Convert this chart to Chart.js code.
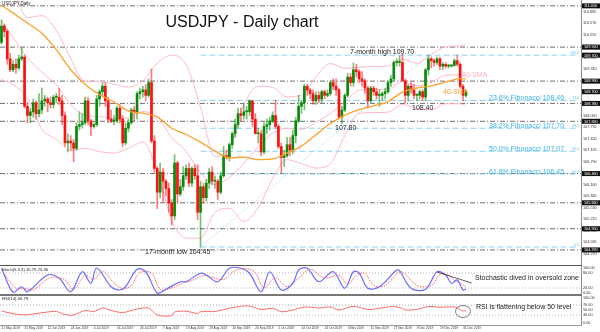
<!DOCTYPE html>
<html><head><meta charset="utf-8">
<script src="https://cdn.jsdelivr.net/npm/chart.js@4.4.1/dist/chart.umd.min.js"></script>
<style>
html,body{margin:0;padding:0;background:#fff;}
#wrap{position:relative;width:600px;height:332px;overflow:hidden;background:#fff;}
canvas{position:absolute;left:0;}
#c1{top:0;} #c2{top:266px;} #c3{top:295px;}
.sep{position:absolute;left:0;width:582px;}
</style></head><body>
<div id="wrap">
<canvas id="c1" width="600" height="266"></canvas>
<canvas id="c2" width="600" height="29"></canvas>
<canvas id="c3" width="600" height="37"></canvas>
<div class="sep" style="top:265px;height:1px;background:#555;"></div>
<div class="sep" style="top:294px;height:2px;background:#777;"></div>
<div class="sep" style="top:325px;height:1px;background:#999;"></div>
</div>
<script>
// ---------------- DATA ----------------
const TITLE = "USDJPY - Daily chart";
const dateTickIdx = [0,8,16,24,32,40,48,56,64,72,80,88,96,104,112,120,128,136,144,152,160];
const dateLabels = ["21 May 2019","31 May 2019","12 Jun 2019","24 Jun 2019","4 Jul 2019","16 Jul 2019","26 Jul 2019","7 Aug 2019","19 Aug 2019","29 Aug 2019","10 Sep 2019","20 Sep 2019","2 Oct 2019","14 Oct 2019","24 Oct 2019","5 Nov 2019","15 Nov 2019","27 Nov 2019","9 Dec 2019","19 Dec 2019","31 Dec 2019"];

const opens = [
110.05,110.50,110.35,109.60,109.30,109.45,109.35,109.60,109.65,108.30,
108.05,108.15,108.40,108.10,108.20,108.45,108.50,108.40,108.35,108.55,
108.55,108.45,108.05,107.30,107.35,107.30,107.15,107.75,107.80,107.85,
108.45,107.90,107.75,107.80,108.50,108.70,108.85,108.45,107.95,107.90,
107.90,108.25,107.95,107.30,107.70,107.85,108.20,108.15,108.65,108.70,
108.75,108.60,108.95,107.35,106.60,105.95,106.50,106.25,106.05,105.65,
105.30,106.75,105.90,106.10,106.40,106.60,106.20,106.60,106.40,105.40,
106.10,105.80,106.20,106.50,106.25,106.25,105.95,106.40,106.95,106.90,
107.25,107.55,107.80,108.10,108.05,108.15,108.15,108.45,107.95,107.55,
107.55,107.05,107.75,107.80,107.90,108.05,107.75,107.20,106.90,106.95,
107.25,107.10,107.50,107.90,108.30,108.40,108.85,108.75,108.65,108.45,
108.60,108.50,108.70,108.60,108.65,108.95,108.85,108.75,108.00,108.20,
108.60,109.10,108.95,109.30,109.25,109.05,109.00,108.80,108.45,108.80,
108.70,108.60,108.60,108.65,108.70,108.95,109.05,109.50,109.50,109.50,
109.00,108.60,108.85,108.75,108.60,108.60,108.70,108.55,109.30,109.60,
109.55,109.50,109.60,109.40,109.45,109.40,109.40,109.42,109.55,109.45,
108.85,108.60];
const highs = [
110.67,110.55,110.40,109.75,109.55,109.60,109.70,109.90,109.70,108.40,
108.25,108.50,108.45,108.65,108.80,108.60,108.55,108.55,108.60,108.65,
108.80,108.60,108.15,107.55,107.50,107.40,107.85,108.15,108.10,108.55,
108.55,107.95,107.85,108.60,108.75,108.95,108.95,108.55,108.20,108.05,
108.30,108.35,108.05,107.85,107.95,108.25,108.30,108.70,108.80,108.85,
108.90,109.05,109.32,107.50,106.65,106.75,106.60,106.30,106.20,105.75,
106.98,106.80,106.30,106.65,106.70,106.75,106.65,106.70,106.70,106.25,
106.20,106.30,106.60,106.65,106.40,106.30,106.50,107.20,107.10,107.30,
107.60,107.95,108.25,108.25,108.35,108.30,108.48,108.47,108.10,107.70,
107.65,107.85,107.95,108.00,108.15,108.47,107.80,107.30,107.10,107.45,
107.45,107.65,108.00,108.60,108.45,108.90,108.90,108.80,108.75,108.70,
108.70,108.75,108.75,108.75,109.00,109.05,109.05,108.80,108.30,108.65,
109.20,109.20,109.49,109.45,109.30,109.25,109.05,108.85,108.85,108.85,
108.80,108.75,108.70,108.80,109.00,109.15,109.55,109.60,109.68,109.73,
109.05,108.90,108.95,108.90,108.65,108.75,108.75,109.35,109.70,109.65,
109.60,109.65,109.65,109.50,109.50,109.45,109.45,109.60,109.70,109.50,
108.90,108.75];
const lows = [
110.00,110.20,109.45,109.25,109.25,109.20,109.30,109.55,108.25,107.85,
107.85,108.00,107.95,108.00,108.10,108.30,108.15,108.25,108.25,108.40,
108.35,107.80,107.20,107.05,107.10,106.78,107.10,107.65,107.70,107.80,
107.80,107.50,107.70,107.75,108.30,108.60,108.30,107.85,107.85,107.80,
107.85,107.85,107.20,107.25,107.60,107.80,107.90,107.95,108.50,108.55,
108.45,108.55,107.30,106.50,105.50,105.80,105.70,105.85,105.40,105.05,
105.20,105.65,105.85,106.00,106.30,106.10,106.10,106.30,105.20,104.45,
105.65,105.70,106.05,106.15,106.05,105.75,105.90,106.35,106.85,106.80,
107.15,107.45,107.70,107.90,107.95,107.95,108.05,107.75,107.55,107.30,
106.95,107.00,107.55,107.65,107.85,107.70,107.15,106.48,106.65,106.90,
106.95,107.00,107.30,107.85,108.10,108.20,108.60,108.50,108.35,108.35,
108.40,108.40,108.50,108.55,108.60,108.75,108.60,107.95,107.82,108.15,
108.55,108.85,108.85,109.10,108.95,108.85,108.65,108.25,108.40,108.60,
108.50,108.30,108.45,108.50,108.65,108.85,109.00,109.40,109.40,109.00,
108.40,108.45,108.65,108.50,108.45,108.50,108.45,108.45,109.15,109.35,
109.40,109.45,109.30,109.30,109.35,109.35,109.38,109.40,109.40,108.80,
108.45,108.55];
const closes = [
110.50,110.35,109.60,109.30,109.45,109.35,109.60,109.65,108.30,108.05,
108.15,108.40,108.10,108.20,108.45,108.50,108.40,108.35,108.55,108.55,
108.45,108.05,107.30,107.35,107.30,107.15,107.75,107.80,107.85,108.45,
107.90,107.75,107.80,108.50,108.70,108.85,108.45,107.95,107.90,107.90,
108.25,107.95,107.30,107.70,107.85,108.20,108.15,108.65,108.70,108.75,
108.60,108.95,107.35,106.60,105.95,106.50,106.25,106.05,105.65,105.30,
106.75,105.90,106.10,106.40,106.60,106.20,106.60,106.40,105.40,106.10,
105.80,106.20,106.50,106.25,106.25,105.95,106.40,106.95,106.90,107.25,
107.55,107.80,108.10,108.05,108.15,108.15,108.45,107.95,107.55,107.55,
107.05,107.75,107.80,107.90,108.05,107.75,107.20,106.90,106.95,107.25,
107.10,107.50,107.90,108.30,108.40,108.85,108.75,108.65,108.45,108.60,
108.50,108.70,108.60,108.65,108.95,108.85,108.75,108.00,108.20,108.60,
109.10,108.95,109.30,109.25,109.05,109.00,108.80,108.45,108.80,108.70,
108.60,108.60,108.65,108.70,108.95,109.05,109.50,109.50,109.50,109.00,
108.60,108.85,108.75,108.60,108.60,108.70,108.55,109.30,109.60,109.55,
109.50,109.60,109.40,109.45,109.40,109.40,109.42,109.55,109.45,108.85,
108.60,108.70];

// moving averages / Bollinger, read at sampled bars
const maIdx   = [0,4,9,14,19,24,29,34,39,44,49,54,59,64,69,74,79,84,89,94,99,104,109,114,119,124,129,134,139,144,149,154,159,161];
const bbMid   = [110.64,110.19,109.63,109.23,108.89,108.35,108.06,108.02,107.96,107.99,108.16,108.00,107.44,107.07,106.48,106.16,106.35,106.74,107.19,107.57,107.70,107.67,107.86,108.10,108.42,108.74,108.76,108.77,108.97,108.86,108.96,109.15,109.16,109.15];
const bbUpper = [112.24,111.49,110.73,110.78,110.38,109.61,108.97,108.98,108.90,108.83,109.00,109.48,109.70,109.44,108.27,106.92,107.19,108.34,108.85,108.82,108.56,108.61,109.11,109.47,109.34,109.37,109.39,109.40,109.59,109.48,109.72,109.93,109.95,109.99];
const bbLower = [109.04,108.89,108.53,107.68,107.40,107.09,107.15,107.06,107.02,107.15,107.32,106.52,105.18,104.70,104.69,105.40,105.51,105.14,105.53,106.32,106.84,106.73,106.61,106.73,107.50,108.11,108.13,108.14,108.35,108.24,108.20,108.37,108.37,108.31];
const sma40   = [111.07,110.85,110.58,110.30,109.85,109.30,108.90,108.62,108.42,108.17,108.11,108.01,107.70,107.53,107.32,107.08,106.89,106.91,106.84,106.86,107.02,107.21,107.52,107.83,108.06,108.21,108.31,108.43,108.69,108.80,108.86,108.96,109.06,109.05];

// horizontal levels
const priceTicks = [104.270,104.585,104.900,105.215,105.530,105.845,106.160,106.475,106.790,107.105,107.420,107.735,108.050,108.365,108.680,108.995,109.310,109.625,109.940,110.255,110.570,110.885];
const grayLevels = [111.05,109.92,108.99,108.38,107.89,106.46,105.66,104.95,104.37];
const boxLevels = [111.05,109.92,109.70,108.99,108.70,108.38,107.89,106.46,105.66,104.95,104.37];
const fibLevels = [109.70,108.46,107.70,107.07,106.45,104.45];
const fibPct = ["100.0","23.6","38.2","50.0","61.8","0.0"];
const fibTexts = ["","23.6% Fibonacci 108.46","38.2% Fibonacci 107.70","50.0% Fibonacci 107.07","61.8% Fibonacci 106.45",""];
const fibStartIdx = 69, fibEndIdx = 199;
const fibDiagIdx = [69,148];
const fibDiagVal = [104.45,109.70];

// stochastic (5,3,3)
const stochKIdx = [0,4,7,9,16,20,24,28,31,33,38,41,43,47,50,54,57,62,64,69,71,75,79,83,86,90,93,97,101,103,106,110,115,119,122,124,127,131,137,138,142,147,151,154,156,158,160,161];
const stochK    = [99,3,25,5,72,59,5,85,39,100,25,12,25,95,85,0,15,45,45,79,72,45,99,99,79,5,85,12,39,92,99,45,85,19,85,80,19,25,92,89,19,15,85,72,39,52,12,17];
const stochDIdx = [0,5,8,11,17,22,25,29,32,35,39,42,45,48,52,55,59,63,66,70,73,77,81,85,88,91,95,99,103,107,112,117,120,123,126,129,133,138,140,144,149,152,155,157,159,161];
const stochD    = [92,20,18,12,62,52,15,70,55,88,40,18,30,82,80,15,20,40,50,70,62,55,90,97,80,20,60,25,60,95,60,70,35,70,78,30,30,85,75,30,30,75,70,50,40,25];
const stochLevels = [20,80];
const stochTrendIdx = [151,163];
const stochTrendVal = [84,40];

// RSI(14)
const rsiIdx = [0,3,8,12,16,19,22,25,29,32,35,38,42,47,51,54,59,60,64,68,69,74,77,82,86,90,94,97,101,105,110,114,117,122,127,130,136,139,140,144,148,152,157,159,160,161];
const rsiVal = [46,38,30,36,42,44,32,30,48,44,58,48,40,54,58,30,27,42,45,36,43,44,52,63,66,52,57,43,50,62,58,62,50,65,52,55,64,56,50,52,64,61,62,52,46,47];
const rsiLevels = [30,70];

// ---------------- CHARTS ----------------
const X_MIN = -0.52, X_MAX = 200.9;
const FONT = 'Arial, "Liberation Sans", sans-serif';
const fixY = (w) => (s) => { s.width = w; s.paddingTop = 0; s.paddingBottom = 0; };
const pts = (ix, vals) => ix.map((v, i) => ({x: v, y: vals[i]}));
const hline = (v, a, b) => [{x: a, y: v}, {x: b, y: v}];
const UP = '#0a8a0a', DN = '#ff1010';
const isUp = i => closes[i] >= opens[i];

const lineDS = (data, color, width, dash, order, extra) => Object.assign({
  type: 'line', data, borderColor: color, borderWidth: width, borderDash: dash || [],
  pointRadius: 0, fill: false, order, tension: 0
}, extra || {});

const mainDatasets = [];
grayLevels.forEach(v => mainDatasets.push(lineDS(hline(v, X_MIN, X_MAX), '#6e6e6e', 1, [5,2,1,2], 20)));
fibLevels.forEach(v => mainDatasets.push(lineDS(hline(v, fibStartIdx, fibEndIdx), '#8ed3f5', 1, [6,3], 19)));
mainDatasets.push(lineDS(pts(fibDiagIdx, fibDiagVal), '#8ed3f5', 1, [1,2], 19));
[bbUpper, bbMid, bbLower].forEach(arr => mainDatasets.push(lineDS(pts(maIdx, arr), '#ffb9c6', 1, [], 10, {cubicInterpolationMode: 'monotone'})));
mainDatasets.push({
  type: 'bar', order: 3, grouped: false, barThickness: 1, minBarLength: 1,
  data: highs.map((h, i) => ({x: i, y: [lows[i], h]})),
  backgroundColor: c => isUp(c.dataIndex) ? 'rgba(10,138,10,0.55)' : 'rgba(255,16,16,0.55)'
});
mainDatasets.push({
  type: 'bar', order: 2, grouped: false, barThickness: 2, minBarLength: 1,
  data: opens.map((o, i) => ({x: i, y: [o, closes[i]]})),
  backgroundColor: c => isUp(c.dataIndex) ? UP : DN
});
mainDatasets.push(lineDS(pts(maIdx, sma40), '#ffa028', 1.3, [], 1, {cubicInterpolationMode: 'monotone'}));

const mainPlugin = {
  id: 'mainAnnot',
  afterDraw(chart) {
    const {ctx, scales: {x, y}} = chart;
    ctx.save();
    ctx.textBaseline = 'middle';
    ctx.textAlign = 'left';
    ctx.fillStyle = '#222';
    ctx.font = '4.5px ' + FONT;
    ctx.fillText('USDJPY,Daily', 2, 4);
    ctx.font = '16px ' + FONT;
    ctx.fillStyle = '#111';
    ctx.textAlign = 'center';
    ctx.fillText(TITLE, 242, 23);
    ctx.textAlign = 'left';
    ctx.font = '7px ' + FONT;
    ctx.fillStyle = '#222';
    ctx.fillText('7-month high 109.70', 350, y.getPixelForValue(109.70) - 3);
    ctx.fillText('108.40', 412, y.getPixelForValue(108.40) + 5);
    ctx.fillText('107.80', 335, y.getPixelForValue(107.80) + 3);
    ctx.fillText('17-month low 104.45', 145, y.getPixelForValue(104.45) + 5);
    ctx.fillStyle = '#ffb3c0';
    ctx.fillText('20-SMA', 462, 75);
    ctx.fillStyle = '#f5a030';
    ctx.fillText('40-SMA', 443, 92);
    // fib labels
    fibLevels.forEach((v, i) => {
      const py = y.getPixelForValue(v);
      if (fibTexts[i]) {
        ctx.font = '7px ' + FONT;
        ctx.fillStyle = '#3cb2ec';
        ctx.textAlign = 'left';
        ctx.fillText(fibTexts[i], 489, py - 2);
      }
      ctx.font = '3.5px ' + FONT;
      ctx.fillStyle = '#5cc0f0';
      ctx.textAlign = 'right';
      ctx.fillText(fibPct[i], 579, py - 2);
    });
    // boxes on price axis
    ctx.textAlign = 'left';
    ctx.font = '3.8px ' + FONT;
    boxLevels.forEach(v => {
      const py = y.getPixelForValue(v);
      ctx.fillStyle = '#111';
      ctx.fillRect(582, py - 2.5, 18, 5);
      ctx.fillStyle = '#fff';
      ctx.fillText(v.toFixed(3), 584, py + 0.3);
    });
    ctx.restore();
  }
};

new Chart(document.getElementById('c1'), {
  type: 'bar',
  data: {datasets: mainDatasets},
  plugins: [mainPlugin],
  options: {
    responsive: false, animation: false, devicePixelRatio: 1,
    layout: {padding: 0},
    plugins: {legend: {display: false}, tooltip: {enabled: false}},
    scales: {
      x: {type: 'linear', min: X_MIN, max: X_MAX, offset: false, display: false, grid: {display: false}},
      y: {type: 'linear', position: 'right', min: 103.93, max: 111.21,
          afterBuildTicks: s => { s.ticks = priceTicks.map(v => ({value: v})); },
          afterFit: fixY(19),
          grid: {display: false, drawTicks: false},
          border: {display: true, color: '#8a8a8a', width: 1},
          ticks: {autoSkip: false, padding: 2, color: '#333', font: {size: 3.8, family: FONT},
                  callback: v => Number(v).toFixed(3)}}
    }
  }
});

// Stochastic
const stochPlugin = {
  id: 'stochAnnot',
  afterDraw(chart) {
    const {ctx} = chart;
    ctx.save();
    ctx.textBaseline = 'middle'; ctx.textAlign = 'left';
    ctx.fillStyle = '#222'; ctx.font = '4.2px ' + FONT;
    ctx.fillText('Stoch(5,3,3) 16.75 25.36', 2, 4);
    ctx.font = '7px ' + FONT;
    ctx.fillText('Stochastic dived in oversold zone', 475, 12);
    ctx.restore();
  }
};
new Chart(document.getElementById('c2'), {
  type: 'line',
  data: {datasets: [
    ...stochLevels.map(v => lineDS(hline(v, X_MIN, X_MAX), '#b5b5b5', 1, [1,2], 10)),
    lineDS(pts(stochDIdx, stochD), '#ff6a6a', 1, [1.5,1], 3, {tension: 0.35}),
    lineDS(pts(stochKIdx, stochK), '#6b6bff', 1.2, [], 2, {tension: 0.35}),
    lineDS(pts(stochTrendIdx, stochTrendVal), '#333', 0.8, [], 1)
  ]},
  plugins: [stochPlugin],
  options: {
    responsive: false, animation: false, devicePixelRatio: 1,
    layout: {padding: 0},
    plugins: {legend: {display: false}, tooltip: {enabled: false}},
    scales: {
      x: {type: 'linear', min: X_MIN, max: X_MAX, offset: false, display: false},
      y: {type: 'linear', position: 'right', min: -8, max: 108,
          afterBuildTicks: s => { s.ticks = [0,20,80,100].map(v => ({value: v})); },
          afterFit: fixY(19),
          grid: {display: false, drawTicks: false},
          border: {display: true, color: '#8a8a8a', width: 1},
          ticks: {autoSkip: false, padding: 2, color: '#333', font: {size: 3.8, family: FONT},
                  callback: v => Number(v).toFixed(2)}}
    }
  }
});

// RSI
const rsiPlugin = {
  id: 'rsiAnnot',
  afterDraw(chart) {
    const {ctx, scales: {x, y}} = chart;
    ctx.save();
    ctx.textBaseline = 'middle'; ctx.textAlign = 'left';
    ctx.fillStyle = '#222'; ctx.font = '4.2px ' + FONT;
    ctx.fillText('RSI(14) 46.79', 2, 4);
    ctx.font = '7px ' + FONT;
    ctx.fillText('RSI is flattening below 50 level', 476, 12);
    ctx.strokeStyle = '#444'; ctx.lineWidth = 0.7;
    ctx.beginPath();
    ctx.ellipse(x.getPixelForValue(160), y.getPixelForValue(44), 7.5, 6, 0, 0, Math.PI * 2);
    ctx.stroke();
    ctx.restore();
  }
};
new Chart(document.getElementById('c3'), {
  type: 'line',
  data: {datasets: [
    ...rsiLevels.map(v => lineDS(hline(v, X_MIN, X_MAX), '#b5b5b5', 1, [1,2], 10)),
    lineDS(pts(rsiIdx, rsiVal), '#ff6b6b', 1, [], 2, {tension: 0.3})
  ]},
  plugins: [rsiPlugin],
  options: {
    responsive: false, animation: false, devicePixelRatio: 1,
    layout: {padding: 0},
    plugins: {legend: {display: false}, tooltip: {enabled: false}},
    scales: {
      x: {type: 'linear', min: X_MIN, max: X_MAX, offset: false, position: 'bottom',
          afterBuildTicks: s => { s.ticks = dateTickIdx.map(v => ({value: v})); },
          afterFit: s => { s.height = 7; s.paddingLeft = 0; s.paddingRight = 0; },
          grid: {display: false, drawTicks: false},
          border: {display: false},
          ticks: {autoSkip: false, maxRotation: 0, minRotation: 0, align: 'start', padding: 1.5,
                  color: '#333', font: {size: 3.2, family: FONT},
                  callback: (v, i) => dateLabels[i]}},
      y: {type: 'linear', position: 'right', min: -10, max: 110,
          afterBuildTicks: s => { s.ticks = [0,30,50,70,100].map(v => ({value: v})); },
          afterFit: fixY(19),
          grid: {display: false, drawTicks: false},
          border: {display: true, color: '#8a8a8a', width: 1},
          ticks: {autoSkip: false, padding: 2, color: '#333', font: {size: 3.8, family: FONT},
                  callback: v => Number(v).toFixed(2)}}
    }
  }
});
</script>
</body></html>
